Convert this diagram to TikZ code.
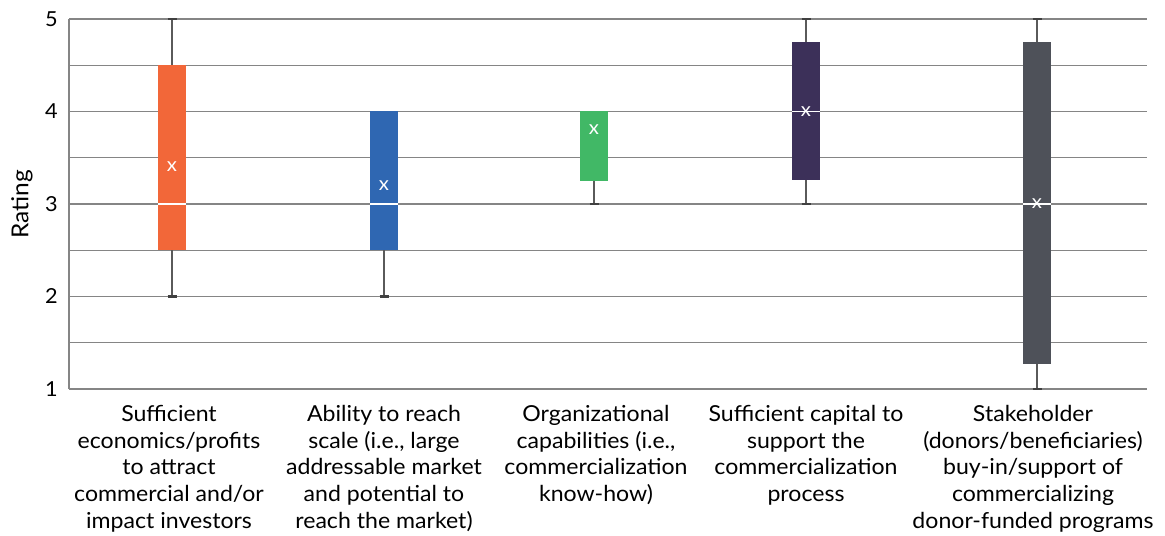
\documentclass[tikz,border=0pt]{standalone}
\usepackage{fontspec}
\setmainfont{Lato}[FakeStretch=1.05]
\usepackage{tikz}

\definecolor{econorange}{HTML}{F26739}
\definecolor{scaleblue}{HTML}{2F67B2}
\definecolor{orggreen}{HTML}{41B866}
\definecolor{capitalpurple}{HTML}{3C3059}
\definecolor{stakegray}{HTML}{4E5159}
\definecolor{gridgray}{HTML}{858585}
\definecolor{whiskgray}{HTML}{5A5A5A}
\definecolor{capgray}{HTML}{404040}

\begin{document}
\begin{tikzpicture}[x=0.75pt, y=69.375pt, font=\fontsize{16.5}{20}\selectfont,
        gridline/.style={draw=gridgray, line width=1pt},
        whisker/.style={draw=whiskgray, line width=1pt},
        whiskcap/.style={draw=capgray, line width=1.6pt},
        median/.style={draw=white, line width=0.8pt},
        meanmark/.style={text=white, inner sep=0pt, font=\fontsize{14.5}{14}\selectfont},
        catlabel/.style={anchor=north, align=center, inner sep=0pt}]
    \useasboundingbox (0,-0.5892) rectangle (1165,5.2054);
    \foreach \y in {1,1.5,...,5} \draw[gridline] (69,\y) -- (1147,\y);
    \draw[gridline] (69,1) -- (69,5);
    \foreach \y in {1,...,5} \node[anchor=east, inner sep=0pt, font=\fontsize{15.5}{18}\selectfont] (tick\y) at (58,\y) {\y};
    \node[rotate=90, font=\fontsize{17.5}{20}\selectfont] (ylabel) at (22,3) {Rating};

    % economics/profits
    \draw[whisker] (172,2) -- (172,5);
    \draw[whiskcap] (167.5,2) -- ++(9,0) (167.5,5) -- ++(9,0);
    \fill[econorange] (158,2.5) rectangle (186,4.5);
    \draw[median] (158,3) -- (186,3);
    \node[meanmark] (mean1) at (172,3.4) {x};

    % reach scale
    \draw[whisker] (384,2) -- (384,4);
    \draw[whiskcap] (379.5,2) -- ++(9,0);
    \fill[scaleblue] (370,2.5) rectangle (398,4);
    \draw[median] (370,3) -- (398,3);
    \node[meanmark] (mean2) at (384,3.2) {x};

    % organizational capabilities
    \draw[whisker] (594,3) -- (594,4);
    \draw[whiskcap] (589.5,3) -- ++(9,0);
    \fill[orggreen] (580,3.25) rectangle (608,4);
    \node[meanmark] (mean3) at (594,3.8) {x};

    % capital
    \draw[whisker] (806,3) -- (806,5);
    \draw[whiskcap] (801.5,3) -- ++(9,0) (801.5,5) -- ++(9,0);
    \fill[capitalpurple] (792,3.26) rectangle (820,4.75);
    \draw[median] (792,4) -- (820,4);
    \node[meanmark] (mean4) at (806,4) {x};

    % stakeholder buy-in
    \draw[whisker] (1037,1) -- (1037,5);
    \draw[whiskcap] (1032.5,1) -- ++(9,0) (1032.5,5) -- ++(9,0);
    \fill[stakegray] (1023,1.27) rectangle (1051,4.75);
    \draw[median] (1023,3) -- (1051,3);
    \node[meanmark] (mean5) at (1037,3) {x};

    \node[catlabel] (cat1) at (169,0.828) {Sufficient\\economics/profits\\to attract\\commercial and/or\\impact investors};
    \node[catlabel] (cat2) at (384,0.828) {Ability to reach\\scale (i.e., large\\addressable market\\and potential to\\reach the market)};
    \node[catlabel] (cat3) at (596,0.828) {Organizational\\capabilities (i.e.,\\commercialization\\know-how)};
    \node[catlabel] (cat4) at (806,0.828) {Sufficient capital to\\support the\\commercialization\\process};
    \node[catlabel] (cat5) at (1033,0.828) {Stakeholder\\(donors/beneficiaries)\\buy-in/support of\\commercializing\\donor-funded programs};
\end{tikzpicture}
\end{document}
